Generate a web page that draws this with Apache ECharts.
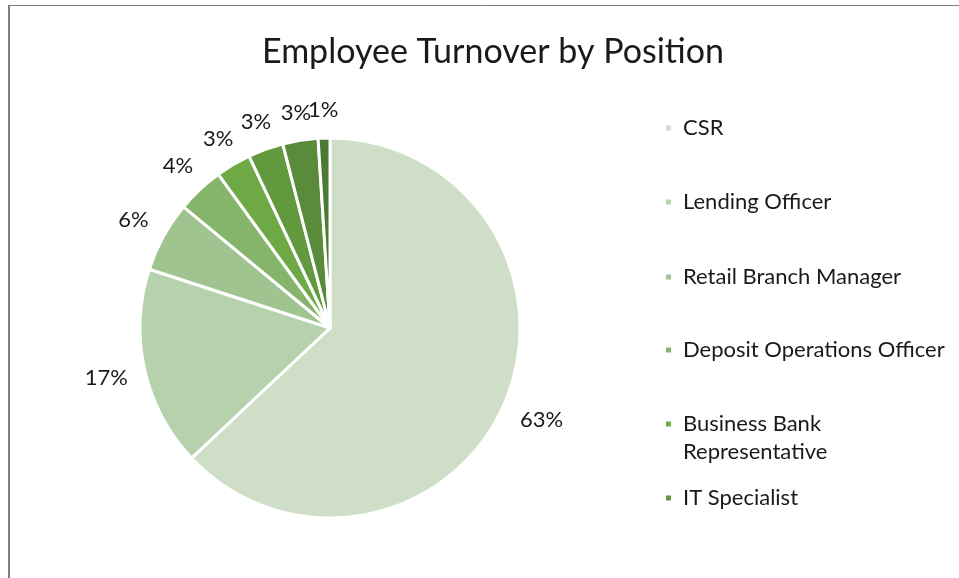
<!DOCTYPE html>
<html>
<head>
<meta charset="utf-8">
<title>Employee Turnover by Position</title>
<script src="https://cdn.jsdelivr.net/npm/echarts@6/dist/echarts.min.js"></script>
<style>
    html, body { margin: 0; padding: 0; background: #fff; }
    #main { width: 959px; height: 578px; }
</style>
</head>
<body>
<div id="main"></div>
<script>
// data (percent of turnover)
var positions = ['CSR', 'Lending Officer', 'Retail Branch Manager', 'Deposit Operations Officer',
    'Business Bank Representative', 'IT Specialist', 'Other A', 'Other B'];
var turnover = [63, 17, 6, 4, 3, 3, 3, 1];
// only the first six show up in the legend
var legendNames = positions.slice(0, 6);
var legendRows = [128, 202, 277, 350, 424, 498];
var colors = ['#cfdfc7', '#b6d2ad', '#a0c490', '#85b56b', '#6ea946', '#62993f', '#598b3a', '#4d7a32'];

var FONT = 'Lato, "Open Sans", sans-serif';
var CX = 330, CY = 328, R = 190;

var myChart = echarts.init(document.getElementById('main'));

var total = 0;
for (var i = 0; i < turnover.length; i++) {
    total += turnover[i];
}
// mid angle of each slice, clockwise from 12 o'clock
var midAngles = [];
var acc = 0;
for (var i = 0; i < turnover.length; i++) {
    midAngles.push((acc + turnover[i] / 2) / total * Math.PI * 2);
    acc += turnover[i];
}

var pieData = [];
for (var i = 0; i < positions.length; i++) {
    pieData.push({name: positions[i], value: turnover[i]});
}

// one legend box per row so the two-line entry keeps the same spacing
var legends = [];
for (var i = 0; i < legendNames.length; i++) {
    var twoLines = legendNames[i] === 'Business Bank Representative';
    legends.push({
        orient: 'vertical',
        left: 664,
        top: twoLines ? legendRows[i] - 42 : legendRows[i] - 14,
        padding: 0,
        icon: 'rect',
        itemWidth: 7,
        itemHeight: 7,
        selectedMode: false,
        data: [legendNames[i]],
        formatter: function (name) {
            // blank first line keeps the marker level with "Business Bank"
            if (name === 'Business Bank Representative') {
                return ' \nBusiness Bank\nRepresentative';
            }
            return name;
        },
        textStyle: {
            fontFamily: FONT,
            fontSize: 22,
            color: '#1a1a1a',
            lineHeight: 28,
            padding: [0, 0, 0, 6]
        }
    });
}

var option = {
    backgroundColor: '#fff',
    animation: false,
    color: colors,
    title: {
        text: 'Employee Turnover by Position',
        left: 488,
        top: 30,
        textAlign: 'center',
        textStyle: {
            fontFamily: FONT,
            fontSize: 34,
            fontWeight: 'normal',
            color: '#1a1a1a'
        }
    },
    legend: legends,
    graphic: [
        {type: 'line', shape: {x1: 8, y1: 5.5, x2: 959, y2: 5.5}, style: {stroke: '#7f7f7f', lineWidth: 1}},
        {type: 'line', shape: {x1: 9, y1: 5, x2: 9, y2: 578}, style: {stroke: '#7f7f7f', lineWidth: 2}}
    ],
    series: [
        {
            name: 'Turnover',
            type: 'pie',
            center: [CX, CY],
            radius: R,
            startAngle: 90,
            clockwise: true,
            avoidLabelOverlap: false,
            data: pieData,
            itemStyle: {
                borderColor: '#fff',
                borderWidth: 3
            },
            label: {
                show: true,
                position: 'outside',
                fontFamily: FONT,
                fontSize: 22,
                color: '#1a1a1a',
                formatter: function (p) {
                    return Math.round(p.percent) + '%';
                }
            },
            labelLine: {show: false},
            // put each label centred on its slice's radial line, just outside the edge
            labelLayout: function (p) {
                var a = midAngles[p.dataIndex];
                var sx = Math.sin(a), sy = -Math.cos(a);
                var w = p.labelRect.width, h = p.labelRect.height;
                var t = Math.min(
                    Math.abs(sx) > 1e-6 ? w / 2 / Math.abs(sx) : 1e9,
                    Math.abs(sy) > 1e-6 ? h / 2 / Math.abs(sy) : 1e9
                );
                var d = R + 17 + t;
                return {
                    x: CX + d * sx,
                    y: CY + d * sy,
                    align: 'center',
                    verticalAlign: 'middle'
                };
            }
        }
    ]
};
myChart.setOption(option);
</script>
</body>
</html>
